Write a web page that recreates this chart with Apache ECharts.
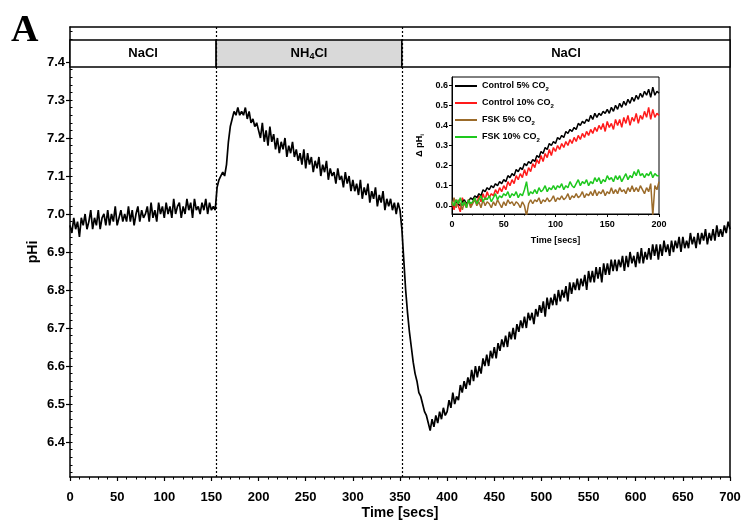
<!DOCTYPE html>
<html><head><meta charset="utf-8">
<script src="https://cdn.jsdelivr.net/npm/echarts@6/dist/echarts.min.js"></script>
<style>html,body{margin:0;padding:0;background:#fff}#c{width:743px;height:521px}</style>
</head><body><div id="c"></div>
<script>
// ---------- DATA ----------
const mainStep = 2; // seconds between samples of the main trace
const mainPHi = [
 6.97,6.95,6.99,6.96,6.98,6.94,6.99,6.97,7.00,6.96,
 6.98,7.01,6.96,6.99,6.97,7.01,6.96,6.99,7.00,6.97,
 7.01,6.97,7.00,6.98,7.02,6.97,6.99,7.01,6.98,7.00,
 6.98,7.02,6.98,7.01,6.97,7.00,7.02,6.98,7.01,6.99,
 7.00,7.02,6.98,7.03,6.99,7.01,6.98,7.03,7.00,7.02,
 6.99,7.03,7.00,7.02,6.99,7.04,7.00,7.02,7.03,6.99,
 7.02,7.00,7.04,7.01,7.03,6.99,7.04,7.01,7.02,7.00,
 7.03,7.01,7.04,7.00,7.03,7.01,7.02,7.01,
 7.07,7.09,7.10,7.11,7.10,7.13,7.19,7.23,7.25,7.27,7.26,7.28,7.26,7.27,7.26,7.28,7.25,7.27,7.24,7.25,7.23,7.24,
 7.22,7.20,7.24,7.19,7.22,7.18,7.23,7.19,7.21,7.17,
 7.20,7.16,7.19,7.17,7.20,7.15,7.18,7.16,7.19,7.15,
 7.17,7.14,7.16,7.13,7.17,7.12,7.16,7.13,7.15,7.11,
 7.14,7.12,7.15,7.10,7.13,7.11,7.14,7.09,7.12,7.10,
 7.11,7.08,7.12,7.09,7.10,7.07,7.11,7.08,7.10,7.06,
 7.09,7.06,7.08,7.05,7.09,7.04,7.07,7.05,7.08,7.03,
 7.06,7.04,7.07,7.02,7.05,7.03,7.06,7.01,7.04,7.02,
 7.04,7.01,7.03,7.00,7.03,7.01,
 6.96,6.88,6.80,6.74,6.69,6.65,6.61,6.58,6.56,6.53,6.52,6.50,6.48,6.47,6.45,6.43,6.46,6.44,6.47,6.45,6.48,6.46,6.49,6.47,
 6.48,6.51,6.49,6.53,6.50,6.52,6.51,6.55,6.53,6.56,
 6.54,6.57,6.55,6.59,6.56,6.60,6.57,6.60,6.58,6.62,
 6.60,6.63,6.60,6.64,6.62,6.65,6.62,6.66,6.64,6.67,
 6.65,6.68,6.65,6.69,6.67,6.70,6.67,6.71,6.69,6.72,
 6.70,6.73,6.70,6.74,6.72,6.74,6.71,6.75,6.73,6.76,
 6.74,6.77,6.73,6.78,6.75,6.78,6.76,6.79,6.76,6.80,
 6.77,6.80,6.78,6.81,6.77,6.82,6.79,6.82,6.80,6.83,
 6.80,6.83,6.81,6.84,6.80,6.85,6.82,6.85,6.82,6.86,
 6.83,6.86,6.82,6.87,6.84,6.87,6.84,6.88,6.85,6.88,
 6.85,6.88,6.86,6.89,6.85,6.89,6.86,6.90,6.87,6.89,
 6.86,6.90,6.87,6.91,6.87,6.90,6.88,6.91,6.88,6.92,
 6.89,6.92,6.88,6.92,6.89,6.93,6.90,6.92,6.89,6.93,
 6.90,6.93,6.91,6.94,6.90,6.94,6.91,6.93,6.91,6.95,
 6.92,6.94,6.91,6.95,6.92,6.95,6.93,6.96,6.92,6.95,
 6.93,6.96,6.93,6.97,6.94,6.96,6.94,6.97,6.95,6.98,
 6.96
];
const phaseBounds = [0, 155, 352, 700];
const phaseNames = ['NaCl', 'NH4Cl', 'NaCl'];
const mainYTicks = [6.4, 6.5, 6.6, 6.7, 6.8, 6.9, 7.0, 7.1, 7.2, 7.3, 7.4];

const insetStep = 2;
const insetNames = ['Control 5% CO2', 'Control 10% CO2', 'FSK 5% CO2', 'FSK 10% CO2'];
const ctrl5 = [
 0.01,0.00,0.02,0.01,0.00,0.02,0.03,0.01,0.02,0.04,
 0.03,0.05,0.04,0.06,0.05,0.08,0.07,0.09,0.08,0.10,
 0.09,0.11,0.10,0.12,0.11,0.13,0.12,0.15,0.14,0.16,
 0.15,0.18,0.17,0.19,0.18,0.21,0.20,0.22,0.21,0.23,
 0.22,0.25,0.24,0.27,0.26,0.29,0.28,0.31,0.30,0.32,
 0.31,0.34,0.33,0.35,0.34,0.37,0.36,0.38,0.37,0.39,
 0.38,0.41,0.40,0.42,0.41,0.43,0.42,0.45,0.43,0.46,
 0.44,0.46,0.45,0.47,0.46,0.48,0.46,0.49,0.47,0.50,
 0.48,0.51,0.49,0.52,0.50,0.53,0.51,0.54,0.52,0.55,
 0.53,0.56,0.54,0.57,0.55,0.58,0.54,0.59,0.55,0.57,
 0.56
];
const ctrl10 = [
 0.02,-0.02,0.03,0.00,-0.03,0.04,0.01,-0.01,0.03,0.00,
 0.02,0.04,0.01,0.05,0.02,0.06,0.03,0.07,0.04,0.06,
 0.05,0.08,0.06,0.09,0.07,0.10,0.08,0.12,0.10,0.13,
 0.11,0.15,0.13,0.16,0.14,0.18,0.15,0.19,0.17,0.21,
 0.19,0.23,0.21,0.25,0.22,0.26,0.24,0.28,0.25,0.29,
 0.27,0.30,0.28,0.31,0.29,0.32,0.30,0.33,0.31,0.34,
 0.32,0.35,0.33,0.36,0.34,0.37,0.35,0.38,0.36,0.39,
 0.37,0.40,0.38,0.41,0.37,0.42,0.39,0.41,0.38,0.43,
 0.40,0.43,0.39,0.44,0.41,0.45,0.40,0.44,0.42,0.46,
 0.41,0.45,0.43,0.47,0.44,0.49,0.43,0.48,0.44,0.46,
 0.45
];
const fsk5 = [
 0.00,0.04,-0.01,0.03,0.01,-0.02,0.02,0.00,0.03,-0.01,
 0.01,0.03,0.00,0.02,-0.01,0.03,0.00,0.02,0.01,-0.01,
 0.02,0.00,0.03,0.01,-0.01,0.02,0.00,0.03,0.01,0.02,
 0.00,0.02,0.01,-0.01,0.02,0.00,-0.05,0.01,0.03,0.01,
 0.03,0.02,0.04,0.01,0.03,0.02,0.04,0.02,0.03,0.05,
 0.02,0.04,0.03,0.05,0.03,0.04,0.06,0.03,0.05,0.04,
 0.06,0.04,0.05,0.07,0.04,0.06,0.05,0.07,0.05,0.08,
 0.05,0.07,0.06,0.08,0.05,0.07,0.06,0.09,0.06,0.08,
 0.06,0.09,0.07,0.08,0.06,0.09,0.07,0.10,0.07,0.09,
 0.07,0.10,0.08,0.06,0.09,0.07,0.11,-0.05,0.10,0.08,
 0.12
];
const fsk10 = [
 0.02,0.00,0.03,0.01,0.04,0.00,0.02,-0.01,0.03,0.01,
 0.02,0.04,0.01,0.03,0.05,0.02,0.04,0.03,0.05,0.02,
 0.04,0.06,0.03,0.05,0.04,0.06,0.05,0.07,0.04,0.06,
 0.05,0.07,0.04,0.06,0.05,0.08,0.12,0.05,0.07,0.06,
 0.08,0.06,0.09,0.07,0.08,0.10,0.07,0.09,0.08,0.10,
 0.08,0.10,0.09,0.11,0.08,0.10,0.09,0.12,0.10,0.09,
 0.11,0.13,0.10,0.12,0.11,0.13,0.10,0.12,0.11,0.14,
 0.12,0.14,0.11,0.13,0.12,0.15,0.13,0.14,0.12,0.15,
 0.13,0.15,0.12,0.14,0.16,0.13,0.15,0.14,0.17,0.15,
 0.18,0.15,0.16,0.14,0.16,0.15,0.17,0.14,0.16,0.15,
 0.15
];
const insetYTicks = [0, 0.1, 0.2, 0.3, 0.4, 0.5, 0.6];

// ---------- CHART ----------
const FONT = '"Liberation Sans", Arial, sans-serif';
const BLACK = '#000';
const mainMin = 6.308, mainMax = 7.492;
const bandLow = 7.387, bandHigh = 7.458;
const minorY = [];
for (let v = 6.32; v <= 7.485; v += 0.02) minorY.push(+v.toFixed(2));

const toPairs = (arr, step) => arr.map((v, i) => [i * step, v]);
const lbl = (extra) => Object.assign({color: BLACK, fontFamily: FONT, fontWeight: 'bold'}, extra);

const chart = echarts.init(document.getElementById('c'), null, {renderer: 'canvas'});
chart.setOption({
  animation: false,
  backgroundColor: '#fff',
  textStyle: {fontFamily: FONT},
  graphic: [{
    type: 'text', left: 11, top: 12,
    style: {text: 'A', font: 'bold 38px "Liberation Serif", "Times New Roman", serif', fill: BLACK}
  }],
  grid: [
    {left: 70, right: 13, top: 27, bottom: 44, containLabel: false, outerBoundsMode: 'none'},
    {left: 452, width: 207, top: 77, height: 137, containLabel: false, outerBoundsMode: 'none',
     show: true, borderColor: BLACK, borderWidth: 1, backgroundColor: '#fff'}
  ],
  legend: {
    data: insetNames,
    orient: 'vertical', left: 450, top: 76,
    itemWidth: 22, itemHeight: 2, itemGap: 6, icon: 'rect',
    selectedMode: false,
    formatter: n => '{a|' + n.slice(0, -1) + '}{s|2}',
    textStyle: {
      rich: {
        a: lbl({fontSize: 9, lineHeight: 12}),
        s: lbl({fontSize: 6, lineHeight: 12, verticalAlign: 'bottom', padding: [5, 0, 0, 0]})
      }
    }
  },
  xAxis: [
    {
      type: 'value', gridIndex: 0, min: 0, max: 700, interval: 50,
      axisLine: {show: true, onZero: false, lineStyle: {color: BLACK, width: 1.5}},
      axisTick: {show: true, length: 4, lineStyle: {color: BLACK, width: 1.2}},
      minorTick: {show: true, splitNumber: 5, length: 2.5, lineStyle: {color: BLACK, width: 1}},
      axisLabel: lbl({fontSize: 13, margin: 14}),
      splitLine: {show: false},
      name: 'Time [secs]', nameLocation: 'middle', nameGap: 29, nameMoveOverlap: false,
      nameTextStyle: lbl({fontSize: 14})
    },
    {
      type: 'value', gridIndex: 0, position: 'top', min: 0, max: 700,
      axisLine: {show: true, onZero: false, lineStyle: {color: BLACK, width: 1.5}},
      axisTick: {show: false}, axisLabel: {show: false}, splitLine: {show: false}
    },
    {
      type: 'value', gridIndex: 1, min: 0, max: 200, interval: 50,
      axisLine: {show: true, onZero: false, lineStyle: {color: BLACK, width: 1}},
      axisTick: {show: true, length: 3, lineStyle: {color: BLACK}},
      minorTick: {show: true, splitNumber: 5, length: 1.5, lineStyle: {color: BLACK}},
      axisLabel: lbl({fontSize: 9, margin: 6}),
      splitLine: {show: false},
      name: 'Time [secs]', nameLocation: 'middle', nameGap: 22, nameMoveOverlap: false,
      nameTextStyle: lbl({fontSize: 9})
    }
  ],
  yAxis: [
    {
      type: 'value', gridIndex: 0, min: mainMin, max: mainMax,
      axisLine: {show: true, lineStyle: {color: BLACK, width: 1.5}},
      axisTick: {show: true, length: 4, customValues: mainYTicks, lineStyle: {color: BLACK, width: 1.2}},
      axisLabel: lbl({fontSize: 13, margin: 5, customValues: mainYTicks, formatter: v => v.toFixed(1)}),
      splitLine: {show: false},
      name: 'pHi', nameLocation: 'middle', nameRotate: 90, nameGap: 30, nameMoveOverlap: false,
      nameTextStyle: lbl({fontSize: 14})
    },
    {
      type: 'value', gridIndex: 0, min: mainMin, max: mainMax,
      axisLine: {show: false},
      axisTick: {show: true, length: 2.5, customValues: minorY, lineStyle: {color: BLACK, width: 1}},
      axisLabel: {show: false}, splitLine: {show: false}
    },
    {
      type: 'value', gridIndex: 0, position: 'right', min: mainMin, max: mainMax,
      axisLine: {show: true, lineStyle: {color: BLACK, width: 1.5}},
      axisTick: {show: false}, axisLabel: {show: false}, splitLine: {show: false}
    },
    {
      type: 'value', gridIndex: 1, min: -0.041, max: 0.641,
      axisLine: {show: true, lineStyle: {color: BLACK, width: 1}},
      axisTick: {show: true, length: 3, customValues: insetYTicks, lineStyle: {color: BLACK}},
      axisLabel: lbl({fontSize: 9, margin: 4, customValues: insetYTicks, formatter: v => v.toFixed(1)}),
      splitLine: {show: false},
      name: '{a|Δ pH}{s|i}', nameLocation: 'middle', nameRotate: 90, nameGap: 27, nameMoveOverlap: false,
      nameTextStyle: {rich: {a: lbl({fontSize: 9}), s: lbl({fontSize: 6, verticalAlign: 'bottom', padding: [4, 0, 0, 0]})}}
    }
  ],
  series: [
    {
      type: 'line', name: 'pHi', xAxisIndex: 0, yAxisIndex: 0,
      data: toPairs(mainPHi, mainStep),
      showSymbol: false, lineStyle: {color: BLACK, width: 1.7}, itemStyle: {color: BLACK},
      markArea: {
        silent: true,
        itemStyle: {borderColor: BLACK, borderWidth: 1.5},
        label: {
          position: 'inside',
          formatter: p => p.name === 'NH4Cl' ? '{a|NH}{s|4}{a|Cl}' : '{a|' + p.name + '}',
          rich: {a: lbl({fontSize: 13}), s: lbl({fontSize: 9, verticalAlign: 'bottom', padding: [6, 0, 0, 0]})}
        },
        data: phaseNames.map((nm, i) => [
          {xAxis: phaseBounds[i], yAxis: bandLow, name: nm, itemStyle: {color: i === 1 ? '#d9d9d9' : '#ffffff'}},
          {xAxis: phaseBounds[i + 1], yAxis: bandHigh}
        ])
      },
      markLine: {
        silent: true, symbol: 'none', label: {show: false},
        lineStyle: {color: BLACK, type: [2, 2], width: 1.2},
        data: [{xAxis: phaseBounds[1]}, {xAxis: phaseBounds[2]}]
      }
    },
    {type: 'line', name: insetNames[1], xAxisIndex: 2, yAxisIndex: 3, data: toPairs(ctrl10, insetStep), showSymbol: false, lineStyle: {color: '#ff1a1a', width: 1.5}, itemStyle: {color: '#ff1a1a'}},
    {type: 'line', name: insetNames[0], xAxisIndex: 2, yAxisIndex: 3, data: toPairs(ctrl5, insetStep), showSymbol: false, lineStyle: {color: BLACK, width: 1.5}, itemStyle: {color: BLACK}},
    {type: 'line', name: insetNames[2], xAxisIndex: 2, yAxisIndex: 3, data: toPairs(fsk5, insetStep), showSymbol: false, lineStyle: {color: '#9b6b2a', width: 1.5}, itemStyle: {color: '#9b6b2a'}},
    {type: 'line', name: insetNames[3], xAxisIndex: 2, yAxisIndex: 3, data: toPairs(fsk10, insetStep), showSymbol: false, lineStyle: {color: '#1ec81e', width: 1.5}, itemStyle: {color: '#1ec81e'}}
  ]
});
</script></body></html>
